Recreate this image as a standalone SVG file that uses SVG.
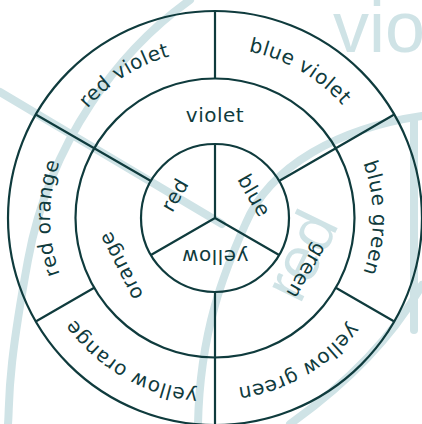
<svg xmlns="http://www.w3.org/2000/svg" width="422" height="424" viewBox="0 0 422 424">
<style>
.wm{fill:none;stroke:#cfe3e6;stroke-width:8;stroke-linecap:round}
.wmt{fill:#cfe3e6;font-family:"Liberation Sans",Arial,sans-serif}
.ring{fill:none;stroke:#0f3b3d;stroke-width:2.2}
.div{stroke:#0f3b3d;stroke-width:2.2;fill:none}
.lbl{fill:#0f3b3d;font-family:"DejaVu Sans",Verdana,sans-serif;font-size:20px;letter-spacing:0.5px;text-anchor:middle}
</style>
<defs>
<path id="p-rv" d="M57.13 275.46 A168 168 0 0 1 343.69 110.01"/>
<path id="p-bv" d="M84.78 108.72 A170 170 0 0 1 374.75 276.14"/>
<path id="p-bg" d="M242.43 62.4 A158 158 0 0 1 242.43 373.6"/>
<path id="p-yg" d="M375.69 159.52 A171 171 0 0 1 84.01 327.92"/>
<path id="p-yo" d="M347.52 329.2 A173 173 0 0 1 52.43 158.83"/>
<path id="p-ro" d="M186.36 380.49 A165 165 0 0 1 186.36 55.51"/>
</defs>
<rect width="422" height="424" fill="#ffffff"/>
<g id="watermark">
<path class="wm" d="M190 0 C 120 50, 50 140, 28 260 S 10 400, 8 424"/>
<path class="wm" d="M0 92 L222 224"/>
<path class="wm" d="M422 116 C 340 128, 270 165, 245 225 C 225 270, 200 330, 198 424"/>
<path class="wm" d="M414 118 L414 330"/>
<path class="wm" d="M422 285 Q 380 360 290 424"/>
<text class="wmt" x="333" y="52" font-size="72">vio</text>
<text class="wmt" font-size="62" transform="translate(300 305) rotate(-64)">red</text>
</g>
<g id="rings">
<circle class="ring" cx="215" cy="218" r="207"/>
<circle class="ring" cx="215" cy="218" r="139.5"/>
<circle class="ring" cx="215" cy="218" r="74"/>
</g>
<g id="connectors">
<path class="div" d="M215 218 L215 144 M215 218 L279.08 255 M215 218 L150.92 255"/>
<path class="div" d="M150.92 181 L35.74 114.5 M279.08 181 L394.26 114.5 M215 292 L215 425"/>
<path class="div" d="M215 78.5 L215 11 M335.81 287.75 L394.26 321.5 M94.19 287.75 L35.74 321.5"/>
</g>
<g id="node-red"><text class="lbl" transform="translate(180.8 198.3) rotate(-60)">red</text></g>
<g id="node-blue"><text class="lbl" transform="translate(248.3 198.8) rotate(60)">blue</text></g>
<g id="node-yellow"><text class="lbl" transform="translate(215 250) rotate(180)">yellow</text></g>
<g id="node-violet"><text class="lbl" x="215" y="121.7">violet</text></g>
<g id="node-orange"><text class="lbl" transform="translate(126.8 262.9) rotate(243)">orange</text></g>
<g id="node-green"><text class="lbl" transform="translate(300.7 267.5) rotate(120)">green</text></g>
<g id="node-red-violet"><text class="lbl"><textPath href="#p-rv" startOffset="48.5%">red violet</textPath></text></g>
<g id="node-blue-violet"><text class="lbl"><textPath href="#p-bv" startOffset="50%">blue violet</textPath></text></g>
<g id="node-blue-green"><text class="lbl"><textPath href="#p-bg" startOffset="50%">blue green</textPath></text></g>
<g id="node-yellow-green"><text class="lbl"><textPath href="#p-yg" startOffset="50%">yellow green</textPath></text></g>
<g id="node-yellow-orange"><text class="lbl"><textPath href="#p-yo" startOffset="50%">yellow orange</textPath></text></g>
<g id="node-red-orange"><text class="lbl"><textPath href="#p-ro" startOffset="50%">red orange</textPath></text></g>
</svg>
